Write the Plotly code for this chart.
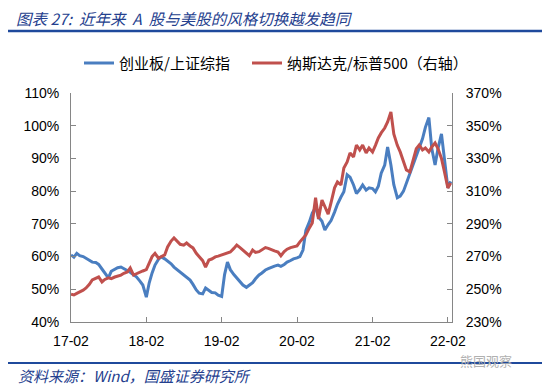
import plotly.graph_objects as go
import pandas as pd

# semi-monthly observation dates (1st and 15th), Feb 2017 - Feb 2022
dates = pd.date_range("2017-02-01", periods=122, freq="SMS")

chinext_sse = [
    60.5, 59.8, 61.0, 60.3, 60.0, 59.4, 58.9, 58.3, 58.2, 57.6, 56.2, 55.0,
    53.5, 55.5, 56.2, 56.6, 56.8, 56.3, 55.9, 55.2, 54.4, 53.8, 52.5, 51.3,
    47.6, 52.0, 55.0, 57.4, 59.2, 59.9, 59.3, 58.6, 57.8, 56.8, 56.0, 55.2,
    54.4, 53.6, 52.8, 51.5, 49.8, 48.8, 48.6, 50.4, 49.6, 49.0, 48.9, 48.2,
    47.8, 54.5, 58.3, 56.0, 54.5, 53.5, 52.3, 51.3, 50.6, 51.2, 52.0, 53.2,
    54.4, 55.0, 55.9, 56.3, 56.8, 57.1, 57.4, 57.0, 57.6, 58.3, 58.8, 59.3,
    59.6, 60.0, 62.0, 68.0, 70.6, 73.3, 75.0, 72.1, 70.8, 68.1, 69.8, 71.0,
    73.6, 76.0, 78.2, 79.8, 85.0, 84.3, 81.9, 79.3, 80.5, 81.9, 80.3, 81.0,
    80.8, 79.8, 81.5, 85.5, 88.0, 93.5, 88.0, 82.0, 78.0, 78.5, 80.0, 82.5,
    85.5, 88.0, 90.5, 93.0, 96.0, 99.5, 102.5, 93.0, 88.0, 93.0, 97.5, 90.0,
    81.0, 83.0,
]

nasdaq_spx = [
    247.0, 246.5, 247.5, 248.3, 249.5, 250.8, 253.0, 255.7, 256.5, 257.5, 254.5, 256.0,
    257.0, 256.5, 257.5, 258.0, 258.7, 259.8, 260.6, 263.0, 258.7, 259.5, 260.6, 261.2,
    262.0, 266.0, 270.0, 272.0, 269.0, 270.0, 271.0, 275.9, 279.5, 281.4, 279.0, 277.5,
    277.0, 278.3, 276.5, 275.3, 272.0, 270.0, 267.5, 263.6, 267.9, 268.5, 269.8, 270.3,
    271.0, 271.5, 272.5, 272.8, 275.0, 277.0, 275.5, 274.0, 272.0, 270.5, 274.0, 272.5,
    273.0, 274.0, 275.5, 275.0, 274.0, 273.5, 272.8, 270.5, 273.0, 274.5, 275.5, 276.0,
    276.5, 279.0, 281.0, 283.2, 287.5, 290.5, 306.0, 293.0, 304.6, 300.0, 296.0, 303.0,
    312.0, 315.6, 313.8, 324.2, 327.9, 333.4, 330.9, 338.2, 335.2, 338.2, 333.4, 336.4,
    334.0, 338.0, 342.5, 345.6, 348.6, 352.3, 358.4, 345.0, 338.0, 334.0, 328.0, 323.0,
    321.7, 327.9, 336.0, 338.2, 335.2, 336.4, 334.0, 337.0, 339.5, 336.0, 330.0, 322.0,
    312.0, 315.0,
]

tick_dates = ["2017-02-01", "2018-02-01", "2019-02-01", "2020-02-01", "2021-02-01", "2022-02-01"]
tick_labels = ["17-02", "18-02", "19-02", "20-02", "21-02", "22-02"]
left_ticks = [40, 50, 60, 70, 80, 90, 100, 110]
right_ticks = [230, 250, 270, 290, 310, 330, 350, 370]
series_names = ["创业板/上证综指", "纳斯达克/标普500（右轴）"]

BLUE = "#4A7EC0"
RED = "#C0504D"
TITLE_BLUE = "#24408E"
AX = "#868686"
FONT = "Liberation Sans, Noto Sans CJK SC, sans-serif"
CJK = "Noto Sans CJK SC, sans-serif"

fig = go.Figure()
fig.add_trace(go.Scatter(x=dates, y=chinext_sse, name=series_names[0], mode="lines",
                         line=dict(color=BLUE, width=3)))
fig.add_trace(go.Scatter(x=dates, y=nasdaq_spx, name=series_names[1], mode="lines",
                         line=dict(color=RED, width=3), yaxis="y2"))

# page pixel geometry of the plot area; the page body adds an 8px offset
OFF = 8
L, R, T, B = 71, 452, 93, 322
W, H = R - L, B - T

def px(x):
    return (x - L) / W

def py(y):
    return (B - y) / H

fig.update_layout(
    width=550 - OFF, height=386 - OFF,
    margin=dict(l=L - OFF, r=550 - R, t=T - OFF, b=386 - B),
    paper_bgcolor="white", plot_bgcolor="white",
    font=dict(family=FONT, size=14, color="black"),
    showlegend=False,
    xaxis=dict(type="date", range=["2017-02-01", "2022-02-21"],
               tickvals=tick_dates, ticktext=tick_labels, automargin=False,
               ticks="inside", ticklen=5, tickcolor=AX, showline=True, linecolor=AX,
               linewidth=1, showgrid=False, zeroline=False, ticklabelstandoff=6,
               tickfont=dict(size=14)),
    yaxis=dict(range=[40, 110], tickvals=left_ticks, ticktext=[f"{v}%" for v in left_ticks],
               automargin=False,
               ticks="inside", ticklen=5, tickcolor=AX, showline=True, linecolor=AX,
               linewidth=1, showgrid=False, zeroline=False, ticklabelstandoff=8,
               tickfont=dict(size=14)),
    yaxis2=dict(range=[230, 370], tickvals=right_ticks, ticktext=[f"{v}%" for v in right_ticks],
                overlaying="y", side="right", ticks="inside", ticklen=5, tickcolor=AX,
                automargin=False,
                showline=True, linecolor=AX, linewidth=1, showgrid=False, zeroline=False,
                ticklabelstandoff=10, tickfont=dict(size=14)),
)

# legend (drawn manually)
for (x0, x1, tx, col, name) in [(84, 114, 117, BLUE, series_names[0]),
                                (252, 282, 285, RED, series_names[1])]:
    fig.add_shape(type="line", xref="paper", yref="paper", x0=px(x0), x1=px(x1),
                  y0=py(63), y1=py(63), line=dict(color=col, width=3))
    fig.add_annotation(text=name, xref="paper", yref="paper", x=px(tx), y=py(62),
                       xanchor="left", yanchor="middle", showarrow=False,
                       font=dict(family=CJK, size=15, color="black"))

fig.add_annotation(text="<i>图表 27:  近年来  A  股与美股的风格切换越发趋同</i>", xref="paper", yref="paper",
                   x=px(15), y=py(17.5), xanchor="left", yanchor="middle", showarrow=False,
                   borderpad=0, font=dict(family=CJK, size=15.5, color=TITLE_BLUE))
fig.add_shape(type="line", xref="paper", yref="paper", x0=px(3), x1=px(547), y0=py(31), y1=py(31),
              line=dict(color="#1F4A9C", width=2.5))
fig.add_shape(type="line", xref="paper", yref="paper", x0=px(3), x1=px(547), y0=py(363), y1=py(363),
              line=dict(color="#1F4A9C", width=2))
fig.add_annotation(text="<i>资料来源：Wind，国盛证券研究所</i>", xref="paper", yref="paper",
                   x=px(16), y=py(375), xanchor="left", yanchor="middle", showarrow=False,
                   font=dict(family=CJK, size=15, color=TITLE_BLUE))
fig.add_annotation(text="熊国观察", xref="paper", yref="paper",
                   x=px(458), y=py(360), xanchor="left", yanchor="middle", showarrow=False,
                   font=dict(family=CJK, size=13, color="#B0B0B0"))

fig.write_html("out.html")
